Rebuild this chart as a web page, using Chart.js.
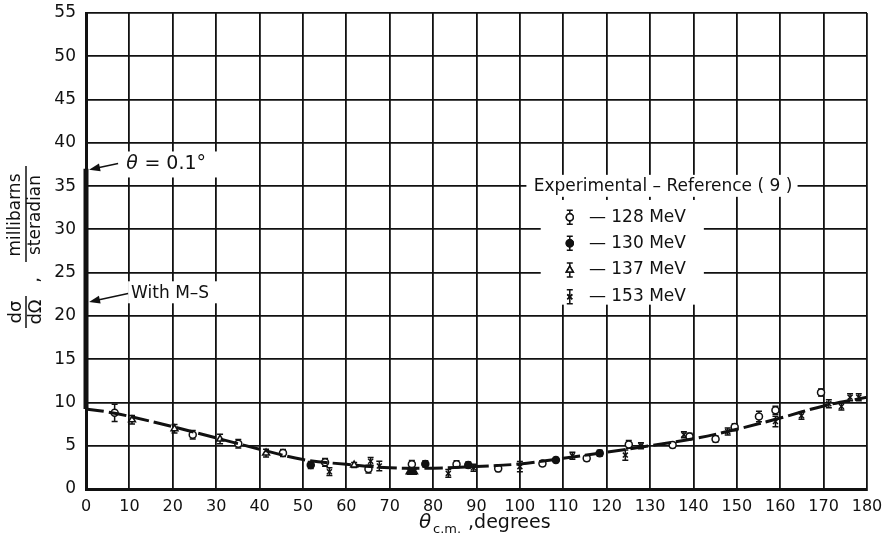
<!DOCTYPE html>
<html>
<head>
<meta charset="utf-8">
<script src="https://cdn.jsdelivr.net/npm/chart.js@4.4.1/dist/chart.umd.min.js"></script>
<style>
  html, body { margin: 0; padding: 0; background: #fff; }
  #wrap { width: 883px; height: 541px; position: relative; }
</style>
</head>
<body>
<div id="wrap"><canvas id="plot"></canvas></div>
<script>
// Theoretical curve (with M-S), angle in degrees vs cross section
const curveAngle = [0, 5, 10, 20, 30, 40, 50, 60, 70, 80, 90, 100, 110, 120, 130, 140, 150, 160, 170, 180];
const curveValue = [9.25, 8.9, 8.4, 7.2, 5.9, 4.6, 3.4, 2.85, 2.45, 2.4, 2.6, 2.9, 3.55, 4.25, 5.0, 5.8, 6.9, 8.2, 9.6, 10.6];

// Forward spike at theta = 0.1 deg
const spikeAngle = [0, 0];
const spikeValue = [9.25, 37];

// Experimental points, Reference (9)
const mev128Angle = [6.6, 24.6, 35.1, 45.4, 55.1, 65.1, 75.1, 85.4, 95.0, 105.2, 115.4, 125.1, 135.2, 139.1, 145.1, 149.5, 155.1, 158.9, 169.4];
const mev128Value = [8.8, 6.27, 5.23, 4.15, 3.08, 2.3, 2.85, 2.85, 2.38, 2.96, 3.54, 5.15, 5.08, 6.08, 5.77, 7.15, 8.38, 9.1, 11.15];
const mev128Error = [1.0, 0.5, 0.5, 0.4, 0.45, 0.45, 0.45, 0.4, 0.35, 0.3, 0.3, 0.45, 0.3, 0.35, 0.35, 0.4, 0.6, 0.45, 0.4];

const mev130Angle = [51.8, 78.2, 88.1, 108.3, 118.4];
const mev130Value = [2.77, 2.9, 2.77, 3.35, 4.12];
const mev130Error = [0.4, 0.35, 0.35, 0.3, 0.35];

const mev137Angle = [10.6, 20.4, 30.9, 41.5, 61.8, 74.6, 75.6];
const mev137Value = [8.0, 6.96, 5.77, 4.15, 2.77, 2.0, 2.0];
const mev137Error = [0.5, 0.5, 0.55, 0.45, 0.3, 0.3, 0.3];

const mev153Angle = [56.1, 65.6, 67.6, 83.5, 89.3, 100.0, 112.1, 124.3, 127.9, 137.8, 147.9, 158.9, 164.9, 171.2, 174.1, 176.1, 178.1];
const mev153Value = [2.0, 3.2, 2.65, 1.8, 2.46, 2.58, 3.85, 3.92, 5.0, 6.27, 6.65, 7.8, 8.46, 9.85, 9.54, 10.6, 10.6];
const mev153Error = [0.45, 0.45, 0.55, 0.45, 0.4, 0.6, 0.4, 0.6, 0.35, 0.35, 0.4, 0.6, 0.4, 0.45, 0.4, 0.4, 0.4];

const xTicks = [0, 10, 20, 30, 40, 50, 60, 70, 80, 90, 100, 110, 120, 130, 140, 150, 160, 170, 180];
const yTicks = [0, 5, 10, 15, 20, 25, 30, 35, 40, 45, 50, 55];

const legendLabels = ['128 MeV', '130 MeV', '137 MeV', '153 MeV'];

const FONT = '"DejaVu Sans", sans-serif';
const INK = '#111';

function pts(xs, ys) {
    return xs.map((x, i) => ({ x: x, y: ys[i] }));
}

const seriesStyle = [
    { style: 'circle', fill: '#fff', radius: 3.5 },
    { style: 'circle', fill: INK, radius: 3.5 },
    { style: 'triangle', fill: '#fff', radius: 4 },
    { style: 'crossRot', fill: INK, radius: 3.5 }
];

// vertical error bars with small caps, drawn from each point's error
const errorBars = {
    id: 'errorBars',
    beforeDatasetsDraw(chart) {
        const { ctx, scales: { x, y } } = chart;
        ctx.save();
        ctx.strokeStyle = INK;
        ctx.lineWidth = 1.5;
        chart.data.datasets.forEach((ds) => {
            if (!ds.errors) return;
            ds.data.forEach((p, i) => {
                const px = x.getPixelForValue(p.x);
                const top = y.getPixelForValue(p.y + ds.errors[i]);
                const bot = y.getPixelForValue(p.y - ds.errors[i]);
                ctx.beginPath();
                ctx.moveTo(px, top); ctx.lineTo(px, bot);
                ctx.moveTo(px - 3, top); ctx.lineTo(px + 3, top);
                ctx.moveTo(px - 3, bot); ctx.lineTo(px + 3, bot);
                ctx.stroke();
            });
        });
        ctx.restore();
    }
};

function arrow(ctx, x1, y1, x2, y2) {
    const a = Math.atan2(y2 - y1, x2 - x1);
    ctx.beginPath();
    ctx.moveTo(x1, y1);
    ctx.lineTo(x2 - 8 * Math.cos(a), y2 - 8 * Math.sin(a));
    ctx.stroke();
    ctx.beginPath();
    ctx.moveTo(x2, y2);
    ctx.lineTo(x2 - 11 * Math.cos(a) + 4 * Math.sin(a), y2 - 11 * Math.sin(a) - 4 * Math.cos(a));
    ctx.lineTo(x2 - 11 * Math.cos(a) - 4 * Math.sin(a), y2 - 11 * Math.sin(a) + 4 * Math.cos(a));
    ctx.closePath();
    ctx.fill();
}

// legend box, labels, arrows and the axis titles
const annotations = {
    id: 'annotations',
    beforeDatasetsDraw(chart) {
        const { ctx, scales: { x, y } } = chart;
        ctx.save();
        ctx.fillStyle = '#fff';
        // clear the grid behind the legend
        ctx.fillRect(x.getPixelForValue(101.5), y.getPixelForValue(36.3), x.getPixelForValue(164) - x.getPixelForValue(101.5), 22);
        ctx.fillRect(x.getPixelForValue(104.8), y.getPixelForValue(33.4), x.getPixelForValue(142.4) - x.getPixelForValue(104.8), y.getPixelForValue(21.3) - y.getPixelForValue(33.4));
        // clear behind the side labels
        ctx.fillRect(x.getPixelForValue(8.5), y.getPixelForValue(39), 100, 26);
        ctx.fillRect(x.getPixelForValue(9.7), y.getPixelForValue(24), 100, 22);
        ctx.restore();
    },
    afterDatasetsDraw(chart) {
        const { ctx, scales: { x, y } } = chart;
        ctx.save();
        ctx.fillStyle = INK;
        ctx.strokeStyle = INK;
        ctx.lineWidth = 1.5;
        ctx.textBaseline = 'middle';
        ctx.textAlign = 'left';

        ctx.font = '17px ' + FONT;
        ctx.fillText('Experimental \u2013 Reference ( 9 )', x.getPixelForValue(103.2), y.getPixelForValue(35));

        const rows = [31.4, 28.4, 25.3, 22.2];
        legendLabels.forEach((lab, i) => {
            const py = y.getPixelForValue(rows[i]);
            const px = x.getPixelForValue(111.5);
            ctx.beginPath();
            ctx.moveTo(px, py - 7); ctx.lineTo(px, py + 7);
            ctx.moveTo(px - 3, py - 7); ctx.lineTo(px + 3, py - 7);
            ctx.moveTo(px - 3, py + 7); ctx.lineTo(px + 3, py + 7);
            ctx.stroke();
            const s = seriesStyle[i];
            ctx.save();
            ctx.fillStyle = s.fill;
            Chart.helpers.drawPoint(ctx, { pointStyle: s.style, radius: s.radius, borderWidth: 1.5 }, px, py);
            ctx.fill();
            ctx.stroke();
            ctx.restore();
            ctx.fillText('\u2014 ' + lab, x.getPixelForValue(115.9), py);
        });

        // theta = 0.1 deg spike label
        ctx.font = 'italic 19px ' + FONT;
        ctx.fillText('\u03B8', x.getPixelForValue(9.3), y.getPixelForValue(37.5));
        ctx.font = '19px ' + FONT;
        ctx.fillText(' = 0.1\u00B0', x.getPixelForValue(9.3) + 12, y.getPixelForValue(37.5));
        arrow(ctx, x.getPixelForValue(7.4), y.getPixelForValue(37.6), x.getPixelForValue(0.7), y.getPixelForValue(36.9));

        ctx.font = '17px ' + FONT;
        ctx.fillText('With M\u2013S', x.getPixelForValue(10.4), y.getPixelForValue(22.6));
        arrow(ctx, x.getPixelForValue(9.7), y.getPixelForValue(22.6), x.getPixelForValue(0.7), y.getPixelForValue(21.6));

        // x axis title with subscript
        ctx.textBaseline = 'alphabetic';
        ctx.font = 'italic 20px ' + FONT;
        ctx.fillText('\u03B8', 419, 528);
        ctx.font = '13px ' + FONT;
        ctx.fillText('c.m.', 433, 533);
        ctx.font = '19px ' + FONT;
        ctx.fillText(' ,degrees', 462, 528);

        // y axis title: d(sigma)/d(Omega), millibarns/steradian
        ctx.save();
        ctx.translate(26, 250);
        ctx.rotate(-Math.PI / 2);
        ctx.textAlign = 'center';
        ctx.textBaseline = 'middle';
        ctx.font = '18px ' + FONT;
        ctx.fillText('d\u03C3', -62, -10);
        ctx.fillText('d\u03A9', -62, 10);
        ctx.beginPath();
        ctx.moveTo(-78, 0); ctx.lineTo(-46, 0);
        ctx.stroke();
        ctx.fillText(',', -30, 8);
        ctx.font = '17px ' + FONT;
        ctx.fillText('millibarns', 35, -10);
        ctx.fillText('steradian', 35, 10);
        ctx.beginPath();
        ctx.moveTo(-12, 0); ctx.lineTo(84, 0);
        ctx.stroke();
        ctx.restore();

        ctx.restore();
    }
};

function expSet(label, xs, ys, errs, s) {
    return {
        label: label,
        data: pts(xs, ys),
        errors: errs,
        showLine: false,
        pointStyle: s.style,
        pointRadius: s.radius,
        pointBackgroundColor: s.fill,
        pointBorderColor: INK,
        pointBorderWidth: 1.5,
        pointHoverRadius: s.radius
    };
}

const ctx = document.getElementById('plot').getContext('2d');
new Chart(ctx, {
    type: 'scatter',
    data: {
        datasets: [
            {
                label: 'With M-S',
                data: pts(curveAngle, curveValue),
                showLine: true,
                borderColor: INK,
                borderWidth: 3,
                borderDash: [18, 5],
                tension: 0.35,
                pointRadius: 0
            },
            {
                label: 'theta = 0.1',
                data: pts(spikeAngle, spikeValue),
                showLine: true,
                clip: false,
                borderColor: INK,
                borderWidth: 5,
                pointRadius: 0
            },
            expSet(legendLabels[0], mev128Angle, mev128Value, mev128Error, seriesStyle[0]),
            expSet(legendLabels[1], mev130Angle, mev130Value, mev130Error, seriesStyle[1]),
            Object.assign(expSet(legendLabels[2], mev137Angle, mev137Value, mev137Error, seriesStyle[2]),
                { pointBackgroundColor: mev137Angle.map((a) => (a > 70 && a < 80 ? INK : '#fff')) }),
            expSet(legendLabels[3], mev153Angle, mev153Value, mev153Error, seriesStyle[3])
        ]
    },
    options: {
        responsive: true,
        maintainAspectRatio: false,
        animation: false,
        layout: { padding: { top: 13, right: 16, left: 0, bottom: 0 } },
        plugins: {
            legend: { display: false },
            tooltip: { enabled: false }
        },
        scales: {
            x: {
                type: 'linear',
                min: 0,
                max: 180,
                afterFit: (s) => { s.height = 52; s.paddingLeft = 0; s.paddingRight = 0; },
                afterBuildTicks: (s) => { s.ticks = xTicks.map((v) => ({ value: v })); },
                grid: { color: '#111', lineWidth: 1.8, drawTicks: false },
                border: { color: INK, width: 3 },
                ticks: { color: INK, font: { family: FONT, size: 16 }, padding: 8, maxRotation: 0, autoSkip: false }
            },
            y: {
                type: 'linear',
                min: 0,
                max: 55,
                afterFit: (s) => { s.width = 86; s.paddingTop = 0; s.paddingBottom = 0; },
                afterBuildTicks: (s) => { s.ticks = yTicks.map((v) => ({ value: v })); },
                grid: { color: '#111', lineWidth: 1.8, drawTicks: false },
                border: { color: INK, width: 3 },
                ticks: { color: INK, font: { family: FONT, size: 17 }, padding: 10, autoSkip: false }
            }
        }
    },
    plugins: [annotations, errorBars]
});
</script>
</body>
</html>
